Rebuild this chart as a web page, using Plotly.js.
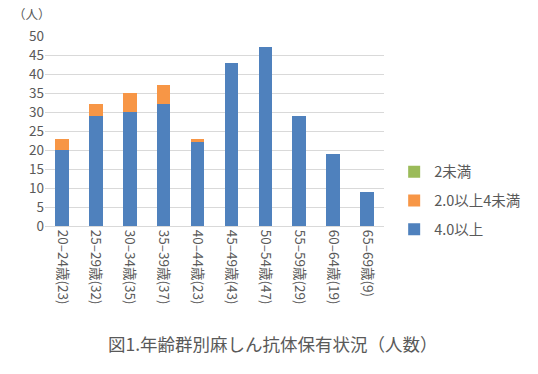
<!DOCTYPE html>
<html><head><meta charset="utf-8">
<script src="https://cdn.plot.ly/plotly-3.0.1.min.js"></script>
<style>html,body{margin:0;padding:0;background:#fff}#c{width:538px;height:374px}</style>
</head><body><div id="c"></div>
<script>
const categories = ["20–24歳(23)","25–29歳(32)","30–34歳(35)","35–39歳(37)","40–44歳(23)","45–49歳(43)","50–54歳(47)","55–59歳(29)","60–64歳(19)","65–69歳(9)"];
const over4 = [20,29,30,32,22,43,47,29,19,9];
const from2to4 = [3,3,5,5,1,0,0,0,0,0];
const under2 = [0,0,0,0,0,0,0,0,0,0];
const seriesNames = ["4.0以上","2.0以上4未満","2未満"];
const F = '"Noto Sans CJK JP", "Noto Sans", sans-serif';
const traces = [
  {type:'bar', x:categories, y:over4, name:seriesNames[0], marker:{color:'#4F81BD'}, legendgroup:'a', legendrank:3},
  {type:'bar', x:categories, y:from2to4, name:seriesNames[1], marker:{color:'#F79646'}, legendgroup:'b', legendrank:2},
  {type:'bar', x:categories, y:under2, name:seriesNames[2], marker:{color:'#9BBB59'}, legendgroup:'c', legendrank:1}
];
const layout = {
  width:538, height:374,
  margin:{l:45, r:136, t:36, b:148},
  barmode:'stack', bargap:0.6,
  paper_bgcolor:'#fff', plot_bgcolor:'#fff',
  font:{family:F, color:'#595959', size:12},
  showlegend:true,
  legend:{x:1.03, y:0.37, xanchor:'left', yanchor:'top', traceorder:'grouped', tracegroupgap:7, font:{size:14.5, color:'#595959'}, itemwidth:30},
  xaxis:{tickangle:90, tickfont:{size:13.5, color:'#595959'}, showline:true, linecolor:'#d9d9d9', ticks:'', showgrid:false},
  yaxis:{range:[0,50], dtick:5, gridcolor:'#d9d9d9', zeroline:false, tickfont:{size:13.5, color:'#595959'}, ticks:'', ticklen:0},
  annotations:[
    {text:'（人）', xref:'paper', yref:'paper', x:-0.1, y:1.06, xanchor:'left', yanchor:'bottom', showarrow:false, font:{size:12.5, color:'#595959'}},
    {text:'図1.年齢群別麻しん抗体保有状況（人数）', xref:'paper', yref:'paper', x:0.672, y:-0.62, xanchor:'center', yanchor:'middle', showarrow:false, font:{size:17.5, color:'#595959'}}
  ]
};
Plotly.newPlot('c', traces, layout, {displayModeBar:false, staticPlot:true});
</script></body></html>
